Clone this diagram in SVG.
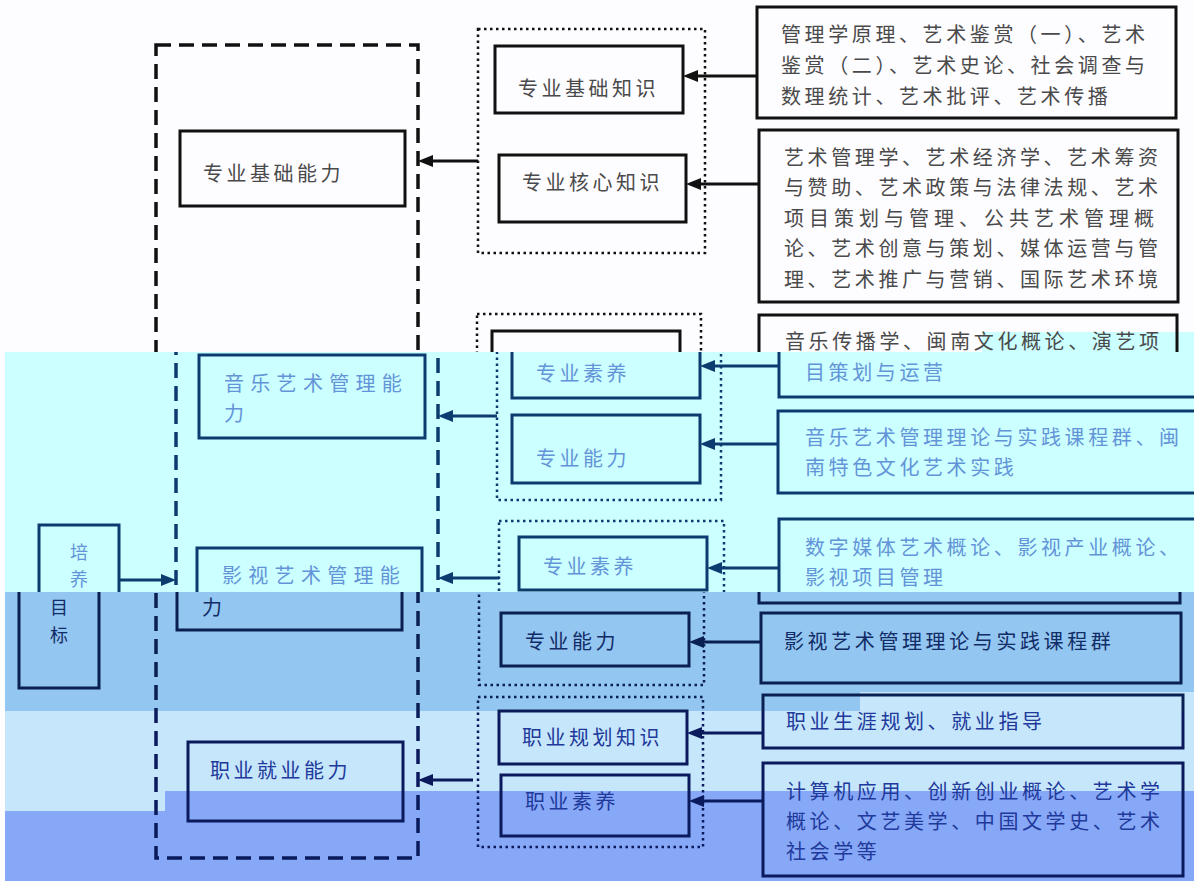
<svg xmlns="http://www.w3.org/2000/svg" xmlns:xlink="http://www.w3.org/1999/xlink" width="1194" height="881" viewBox="0 0 1194 881">
<style>
.bx{fill:none;stroke:var(--ink);stroke-width:3}
.dash{fill:none;stroke:var(--ink);stroke-width:3.5;stroke-dasharray:15 8}
.dot{fill:none;stroke:var(--ink);stroke-width:2.5;stroke-dasharray:2.5 3.5}
.ln{fill:none;stroke:var(--ink);stroke-width:3}
.ah{fill:var(--ink);stroke:none}
text{font-family:"Noto Sans CJK SC","Noto Sans",sans-serif;font-size:20px;fill:var(--txt)}
.t{letter-spacing:3.5px}
.r{letter-spacing:3.6px}
.g{font-size:18px}
</style>
<defs>
<clipPath id="cTop"><rect x="0" y="0" width="1194" height="352"/></clipPath>
<clipPath id="cCyan"><rect x="0" y="352" width="1194" height="240"/></clipPath>
<clipPath id="cMid"><rect x="0" y="592" width="1194" height="119"/></clipPath>
<clipPath id="cLow"><rect x="0" y="711" width="1194" height="170"/></clipPath>
</defs>
<g id="background">
<rect x="0" y="0" width="1194" height="881" fill="#fdfcff"/>
<rect x="5" y="352" width="1189" height="240" fill="#ccffff"/>
<rect x="982" y="332" width="212" height="20" fill="#ccffff"/>
<rect x="5" y="592" width="1189" height="119" fill="#93c6f0"/>
<rect x="5" y="711" width="1189" height="80" fill="#c6e6fc"/>
<rect x="860" y="692" width="334" height="19" fill="#c6e6fc"/>
<rect x="5" y="791" width="160" height="20" fill="#c6e6fc"/>
<rect x="165" y="791" width="1029" height="90" fill="#87a7f7"/>
<rect x="5" y="811" width="160" height="70" fill="#87a7f7"/>
</g>
<g clip-path="url(#cTop)" style="--ink:#111111;--txt:#4a4a4a">
<g id="diagram">
<g id="goal">
<rect class="bx" x="19" y="525" width="80" height="163"/>
<text class="g" x="59" y="559" text-anchor="middle">培</text>
<text class="g" x="59" y="586" text-anchor="middle">养</text>
<text class="g" x="59" y="614" text-anchor="middle">目</text>
<text class="g" x="59" y="642" text-anchor="middle">标</text>
</g>
<g id="ability-frame"><rect class="dash" x="156" y="45" width="262" height="813"/></g>
<g id="ability-basic"><rect class="bx" x="180" y="131" width="225" height="75"/><text class="t" x="203" y="181">专业基础能力</text></g>
<g id="ability-music"><rect class="bx" x="179" y="355" width="226" height="83"/><text x="204" y="391" style="letter-spacing:6.3px">音乐艺术管理能</text><text x="204" y="421">力</text></g>
<g id="ability-film"><rect class="bx" x="177" y="548" width="225" height="82"/><text x="202" y="583" style="letter-spacing:6.3px">影视艺术管理能</text><text x="202" y="615">力</text></g>
<g id="ability-career"><rect class="bx" x="188" y="742" width="215" height="79"/><text class="t" x="210" y="778">职业就业能力</text></g>
<g id="group-basic"><rect class="dot" x="478" y="29" width="227" height="224"/></g>
<g id="group-music"><rect class="dot" x="477" y="314" width="224" height="186"/></g>
<g id="group-film"><rect class="dot" x="479" y="521" width="225" height="164"/></g>
<g id="group-career"><rect class="dot" x="478" y="697" width="225" height="150"/></g>
<g id="k-basic"><rect class="bx" x="495" y="46" width="188" height="67"/><text class="t" x="518" y="96">专业基础知识</text></g>
<g id="k-core"><rect class="bx" x="499" y="155" width="187" height="67"/><text class="t" x="522" y="190">专业核心知识</text></g>
<g id="k-music-quality"><rect class="bx" x="492" y="331" width="188" height="67"/><text class="t" x="516" y="381">专业素养</text></g>
<g id="k-music-ability"><rect class="bx" x="492" y="415" width="188" height="68"/><text class="t" x="516" y="466">专业能力</text></g>
<g id="k-film-quality"><rect class="bx" x="499" y="537" width="188" height="53"/><text class="t" x="523" y="574">专业素养</text></g>
<g id="k-film-ability"><rect class="bx" x="501" y="613" width="188" height="53"/><text class="t" x="525" y="649">专业能力</text></g>
<g id="k-career-plan"><rect class="bx" x="499" y="711" width="188" height="53"/><text class="t" x="522" y="745">职业规划知识</text></g>
<g id="k-career-quality"><rect class="bx" x="501" y="775" width="188" height="61"/><text class="t" x="525" y="809">职业素养</text></g>
<g id="c-basic"><rect class="bx" x="757" y="7" width="419" height="111"/>
<text class="r" x="781" y="42">管理学原理、艺术鉴赏（一）、艺术</text>
<text class="r" x="781" y="73">鉴赏（二）、艺术史论、社会调查与</text>
<text class="r" x="781" y="104">数理统计、艺术批评、艺术传播</text></g>
<g id="c-core"><rect class="bx" x="759" y="130" width="419" height="172"/>
<text class="r" x="784" y="165">艺术管理学、艺术经济学、艺术筹资</text>
<text class="r" x="784" y="195">与赞助、艺术政策与法律法规、艺术</text>
<text x="784" y="226" style="letter-spacing:5px">项目策划与管理、公共艺术管理概</text>
<text class="r" x="784" y="256">论、艺术创意与策划、媒体运营与管</text>
<text class="r" x="784" y="287">理、艺术推广与营销、国际艺术环境</text></g>
<g id="c-music-quality"><rect class="bx" x="759" y="315" width="418" height="82"/>
<text class="r" x="785" y="349">音乐传播学、闽南文化概论、演艺项</text>
<text class="r" x="785" y="380">目策划与运营</text></g>
<g id="c-music-ability"><rect class="bx" x="758" y="411" width="420" height="82"/>
<text class="r" x="785" y="445">音乐艺术管理理论与实践课程群、闽</text>
<text class="r" x="785" y="475">南特色文化艺术实践</text></g>
<g id="c-film-quality"><rect class="bx" x="759" y="519" width="421" height="84"/>
<text class="r" x="785" y="555">数字媒体艺术概论、影视产业概论、</text>
<text class="r" x="785" y="585">影视项目管理</text></g>
<g id="c-film-ability"><rect class="bx" x="761" y="613" width="420" height="70"/>
<text class="r" x="784" y="649">影视艺术管理理论与实践课程群</text></g>
<g id="c-career-plan"><rect class="bx" x="763" y="695" width="420" height="53"/>
<text class="r" x="786" y="729">职业生涯规划、就业指导</text></g>
<g id="c-career-quality"><rect class="bx" x="763" y="763" width="420" height="113"/>
<text class="r" x="786" y="799">计算机应用、创新创业概论、艺术学</text>
<text class="r" x="786" y="829">概论、文艺美学、中国文学史、艺术</text>
<text class="r" x="786" y="859">社会学等</text></g>
<g id="connectors">
<path class="ln" d="M99 580H144"/><polygon class="ah" points="156,580 141,574 141,586"/>
<path class="ln" d="M478 161H430"/><polygon class="ah" points="418,161 433,155 433,167"/>
<path class="ln" d="M477 416H430"/><polygon class="ah" points="418,416 433,410 433,422"/>
<path class="ln" d="M479 578H430"/><polygon class="ah" points="418,578 433,572 433,584"/>
<path class="ln" d="M473 780H430"/><polygon class="ah" points="418,780 433,774 433,786"/>
<path class="ln" d="M757 76H695"/><polygon class="ah" points="683,76 698,70 698,82"/>
<path class="ln" d="M759 184H698"/><polygon class="ah" points="686,184 701,178 701,190"/>
<path class="ln" d="M758 366H692"/><polygon class="ah" points="680,366 695,360 695,372"/>
<path class="ln" d="M758 444H692"/><polygon class="ah" points="680,444 695,438 695,450"/>
<path class="ln" d="M759 568H699"/><polygon class="ah" points="687,568 702,562 702,574"/>
<path class="ln" d="M761 642H701"/><polygon class="ah" points="689,642 704,636 704,648"/>
<path class="ln" d="M763 733H699"/><polygon class="ah" points="687,733 702,727 702,739"/>
<path class="ln" d="M763 801H701"/><polygon class="ah" points="689,801 704,795 704,807"/>
</g>
</g>
</g>
<g clip-path="url(#cCyan)" style="--ink:#0c3b70;--txt:#6394d8"><use href="#diagram" xlink:href="#diagram" x="20" y="0"/></g>
<g clip-path="url(#cMid)" style="--ink:#0a1f52;--txt:#112c66"><use href="#diagram" xlink:href="#diagram"/></g>
<g clip-path="url(#cLow)" style="--ink:#0a1a5c;--txt:#20399a"><use href="#diagram" xlink:href="#diagram"/></g>
</svg>
